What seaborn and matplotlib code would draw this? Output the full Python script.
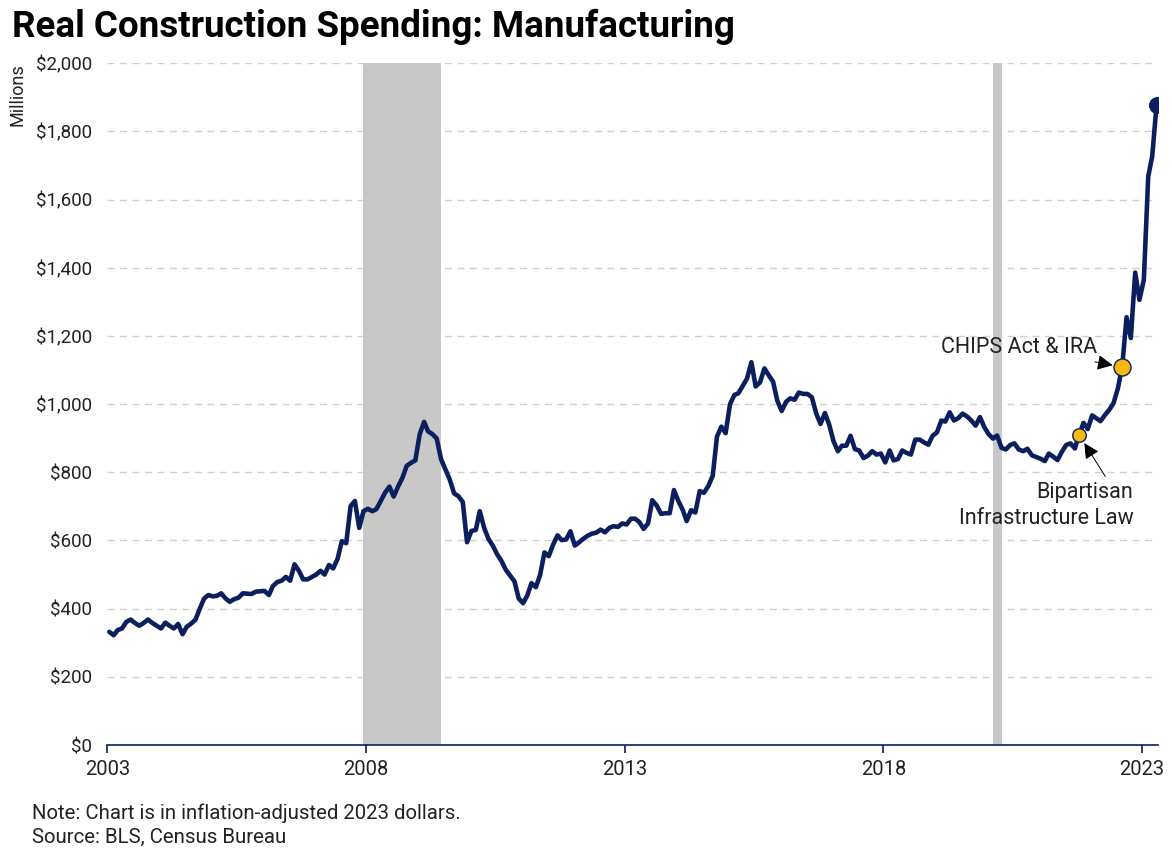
import matplotlib
matplotlib.use("Agg")
import matplotlib.pyplot as plt
import numpy as np
import pandas as pd
import seaborn as sns

# Monthly real construction spending on manufacturing (millions, 2023 dollars)
spending = [
    332, 322, 337, 342, 361, 368, 358, 350, 358, 368, 358, 350,   # 2003
    342, 359, 350, 342, 355, 325, 347, 356, 368, 400, 430, 440,   # 2004
    436, 438, 445, 430, 420, 428, 432, 445, 444, 443, 450, 451,   # 2005
    452, 440, 466, 478, 482, 493, 482, 530, 511, 486, 486, 493,   # 2006
    500, 511, 500, 528, 518, 546, 598, 592, 701, 716, 637, 686,   # 2007
    693, 686, 692, 716, 740, 758, 729, 758, 784, 819, 828, 835,   # 2008
    912, 948, 920, 912, 899, 838, 809, 779, 738, 730, 713, 595,   # 2009
    628, 631, 686, 637, 605, 585, 560, 540, 514, 497, 480, 430,   # 2010
    416, 440, 475, 463, 499, 565, 554, 588, 615, 601, 603, 627,   # 2011
    585, 595, 605, 614, 620, 623, 632, 624, 637, 642, 640, 650,   # 2012
    647, 664, 664, 654, 634, 650, 718, 703, 678, 680, 680, 748,   # 2013
    716, 690, 657, 689, 682, 745, 740, 760, 790, 905, 934, 915,   # 2014
    1000, 1027, 1032, 1054, 1075, 1123, 1052, 1064, 1105, 1085, 1066, 1010,  # 2015
    980, 1007, 1017, 1013, 1034, 1030, 1030, 1020, 972, 942, 974, 940,       # 2016
    891, 862, 878, 878, 907, 868, 864, 842, 849, 862, 852, 855,   # 2017
    829, 864, 835, 839, 864, 857, 852, 896, 896, 888, 881, 907,   # 2018
    917, 952, 949, 976, 952, 959, 972, 964, 952, 937, 962, 933,   # 2019
    912, 899, 908, 872, 867, 880, 885, 867, 862, 869, 850, 845,   # 2020
    840, 833, 855, 846, 836, 860, 880, 885, 870, 910, 945, 927,   # 2021
    967, 958, 950, 968, 983, 1003, 1045, 1109, 1255, 1194, 1386, 1306,       # 2022
    1365, 1668, 1727, 1878,                                       # 2023
]
months = pd.date_range("2003-01-01", periods=len(spending), freq="MS") + pd.Timedelta(days=14)
df = pd.DataFrame({"month": months, "spending": spending})

recessions = [("2007-12-15", "2009-06-15"), ("2020-02-15", "2020-04-15")]
events = ["Bipartisan\nInfrastructure Law", "CHIPS Act & IRA"]
event_months = ["2021-10-15", "2022-08-15"]

year_ticks = [2003, 2008, 2013, 2018, 2023]
dollar_ticks = [0, 200, 400, 600, 800, 1000, 1200, 1400, 1600, 1800, 2000]

NAVY = "#0B1F5E"
GOLD = "#F7B90F"
TEXT = "#222222"

sns.set_theme(style="white")
plt.rcParams["font.family"] = ["Roboto", "DejaVu Sans"]

fig = plt.figure(figsize=(11.72, 8.49), dpi=100)
ax = fig.add_axes([107.3 / 1172, 104 / 849, (1158 - 107.3) / 1172, (745 - 63.3) / 849])

# horizontal dashed grid
for v in dollar_ticks[1:]:
    ax.axhline(v, color="#D0D0D0", lw=1.0, ls=(0, (5, 4)), zorder=0)

# recession shading
for start, end in recessions:
    ax.axvspan(pd.Timestamp(start), pd.Timestamp(end), color="#C8C8C8", lw=0, zorder=1)

sns.lineplot(data=df, x="month", y="spending", color=NAVY, lw=3.3, ax=ax, zorder=3,
             solid_capstyle="round", solid_joinstyle="round")

# end point
ax.scatter([df["month"].iloc[-1]], [df["spending"].iloc[-1]], s=150, color=NAVY, zorder=5, lw=0)

# event markers
ev_dates = [pd.Timestamp(d) for d in event_months]
ev_vals = [df.loc[df["month"] == d, "spending"].iloc[0] for d in ev_dates]
ax.scatter([ev_dates[0]], [ev_vals[0]], s=95, color=GOLD, edgecolor=NAVY, lw=1.0, zorder=6)
ax.scatter([ev_dates[1]], [ev_vals[1]], s=150, color=GOLD, edgecolor=NAVY, lw=1.0, zorder=6)

arrow = dict(arrowstyle="-|>,head_length=0.6,head_width=0.3", color="black", lw=0.7,
             shrinkA=2, shrinkB=7)
ax.annotate(events[1], xy=(ev_dates[1], ev_vals[1]), xytext=(-18, 14), textcoords="offset points",
            ha="right", va="center", fontsize=15.5, color=TEXT, arrowprops=arrow)
ax.annotate(events[0], xy=(ev_dates[0], ev_vals[0]), xytext=(39, -34), textcoords="offset points",
            ha="right", va="top", fontsize=15.5, color=TEXT, linespacing=1.3,
            arrowprops=dict(arrow, relpos=(0.86, 1.0)))

# axes styling
ax.set_ylim(0, 2000)
ax.set_xlim(pd.Timestamp("2003-01-01"), pd.Timestamp("2023-04-25"))
ax.set_yticks(dollar_ticks)
ax.set_yticklabels([f"${v:,}" for v in dollar_ticks], fontsize=13.5, color=TEXT)
ax.set_xticks([pd.Timestamp(f"{y}-01-01") for y in year_ticks])
ax.set_xticklabels([str(y) for y in year_ticks], fontsize=14.5, color=TEXT)
ax.tick_params(axis="y", length=0, pad=11)
ax.tick_params(axis="x", length=6, width=1.2, color=NAVY, pad=5, bottom=True)
for side in ["top", "right", "left"]:
    ax.spines[side].set_visible(False)
ax.spines["bottom"].set_color(NAVY)
ax.spines["bottom"].set_linewidth(1.2)
ax.set_xlabel("")
ax.set_ylabel("")
ax.grid(False)

fig.text(17 / 1172, 1 - 63 / 849, "Millions", rotation=90, ha="center", va="top", fontsize=13, color=TEXT)
fig.text(12 / 1172, 1 - 37 / 849, "Real Construction Spending: Manufacturing",
         fontsize=26.5, fontweight="bold", color="black", va="baseline")
fig.text(32 / 1172, 1 - 819 / 849, "Note: Chart is in inflation-adjusted 2023 dollars.",
         fontsize=14.7, color=TEXT, va="baseline")
fig.text(32 / 1172, 1 - 843 / 849, "Source: BLS, Census Bureau",
         fontsize=14.7, color=TEXT, va="baseline")

fig.savefig("out.png", dpi=100)
